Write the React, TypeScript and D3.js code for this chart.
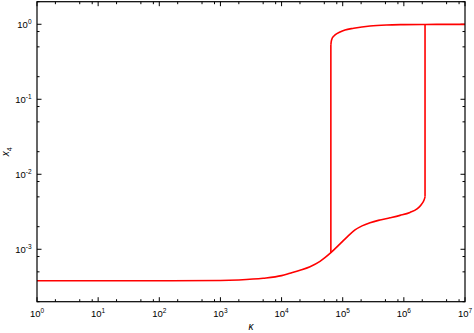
import React from "react";
import * as d3 from "d3";

// lower branch (kappa, x4)
const lowerK = [1, 10, 100, 1000, 2000, 5000, 1e4, 1.37e4, 2e4, 2.92e4, 4.25e4, 6.4e4, 9.04e4, 1.22e5, 1.59e5, 2.07e5, 2.8e5, 4.08e5, 5.94e5, 8.65e5, 1.26e6, 1.64e6, 1.91e6, 2.14e6, 2.22e6];
const lowerX4 = [3.8e-4, 3.8e-4, 3.81e-4, 3.84e-4, 3.9e-4, 4.1e-4, 4.45e-4, 4.79e-4, 5.25e-4, 5.86e-4, 6.9e-4, 9.0e-4, 1.18e-3, 1.5e-3, 1.81e-3, 2.05e-3, 2.26e-3, 2.46e-3, 2.63e-3, 2.83e-3, 3.1e-3, 3.45e-3, 3.9e-3, 4.54e-3, 5.0e-3];

// upper branch
const upperK = [6.4e4, 6.5e4, 6.68e4, 7.07e4, 7.48e4, 9.04e4, 1.09e5, 1.51e5, 2.8e5, 5.2e5, 1e6, 2.22e6, 5e6, 1e7];
const upperX4 = [0.53, 0.59, 0.64, 0.69, 0.72, 0.79, 0.84, 0.885, 0.949, 0.979, 0.99, 0.995, 0.997, 0.997];

// jumps: [kappa, from, to]
const jumps: [number, number, number][] = [
  [6.4e4, 9.0e-4, 0.53],
  [2.22e6, 5.0e-3, 0.995],
];

const xTicks = [0, 1, 2, 3, 4, 5, 6, 7];
const yTicks = [0, -1, -2, -3];

const W = 474, H = 333;
const left = 37, right = 465, top = 1.7, bottom = 301.7;

export default function App() {
  const x = d3.scaleLog().domain([1, 1e7]).range([left, right]);
  const y = d3.scaleLog().domain([2e-4, 2]).range([bottom, top]);

  const line = d3.line<[number, number]>()
    .x((d) => x(d[0]))
    .y((d) => y(d[1]))
    .curve(d3.curveMonotoneX);

  const lower = lowerK.map((k, i) => [k, lowerX4[i]] as [number, number]);
  const upper = upperK.map((k, i) => [k, upperX4[i]] as [number, number]);

  // minor ticks at 2, 5, 8 per decade
  const xMinor: number[] = [];
  for (let e = 0; e < 7; e++) [2, 5, 8].forEach((m) => xMinor.push(m * Math.pow(10, e)));
  const yMinor: number[] = [];
  for (let e = -4; e <= 0; e++) [2, 5, 8].forEach((m) => {
    const v = m * Math.pow(10, e);
    if (v >= 2e-4 && v <= 2) yMinor.push(v);
  });

  const font = "'Liberation Sans', Arial, sans-serif";
  const major = 4.5, minor = 2.5;

  return (
    <svg width={W} height={H} style={{ position: "absolute", left: 0, top: 0 }} fontFamily={font}>
      <rect x={0} y={0} width={W} height={H} fill="#fff" />
      {/* x ticks bottom & top */}
      {xTicks.map((e) => (
        <g key={"xt" + e} stroke="#000" strokeWidth={1}>
          <line x1={x(10 ** e)} x2={x(10 ** e)} y1={bottom} y2={bottom - major} />
          <line x1={x(10 ** e)} x2={x(10 ** e)} y1={top} y2={top + major} />
        </g>
      ))}
      {xMinor.map((v, i) => (
        <g key={"xm" + i} stroke="#000" strokeWidth={1}>
          <line x1={x(v)} x2={x(v)} y1={bottom} y2={bottom - minor} />
          <line x1={x(v)} x2={x(v)} y1={top} y2={top + minor} />
        </g>
      ))}
      {yTicks.map((e) => (
        <g key={"yt" + e} stroke="#000" strokeWidth={1}>
          <line x1={left} x2={left + major} y1={y(10 ** e)} y2={y(10 ** e)} />
          <line x1={right} x2={right - major} y1={y(10 ** e)} y2={y(10 ** e)} />
        </g>
      ))}
      {yMinor.map((v, i) => (
        <g key={"ym" + i} stroke="#000" strokeWidth={1}>
          <line x1={left} x2={left + minor} y1={y(v)} y2={y(v)} />
          <line x1={right} x2={right - minor} y1={y(v)} y2={y(v)} />
        </g>
      ))}
      {/* tick labels */}
      {xTicks.map((e) => (
        <text key={"xl" + e} x={x(10 ** e)} y={bottom + 15} textAnchor="middle" fontSize={9.5} fill="#000">
          <tspan>10</tspan>
          <tspan dy={-4} fontSize={6.5}>{e}</tspan>
        </text>
      ))}
      {yTicks.map((e) => (
        <text key={"yl" + e} x={left - 5.5} y={y(10 ** e) + 3.4} textAnchor="end" fontSize={9.5} fill="#000">
          <tspan>10</tspan>
          <tspan dy={-4} fontSize={6.5}>{e}</tspan>
        </text>
      ))}
      {/* curves */}
      <g fill="none" stroke="#ff0000" strokeWidth={1.6}>
        <path d={line(lower) ?? ""} />
        <path d={line(upper) ?? ""} />
        {jumps.map(([k, a, b], i) => (
          <line key={"j" + i} x1={x(k)} x2={x(k)} y1={y(a)} y2={y(b)} />
        ))}
      </g>
      {/* frame */}
      <rect x={left} y={top} width={right - left} height={bottom - top} fill="none" stroke="#000" strokeWidth={1.2} />
      {/* axis titles */}
      <text x={(left + right) / 2} y={329.5} textAnchor="middle" fontSize={10} fontStyle="italic" fill="#000">κ</text>
      <text transform={`translate(9,${(top + bottom) / 2}) rotate(-90)`} textAnchor="middle" fontSize={10} fontStyle="italic" fill="#000">
        <tspan>x</tspan>
        <tspan dy={2.5} fontSize={7} fontStyle="normal">4</tspan>
      </text>
    </svg>
  );
}
